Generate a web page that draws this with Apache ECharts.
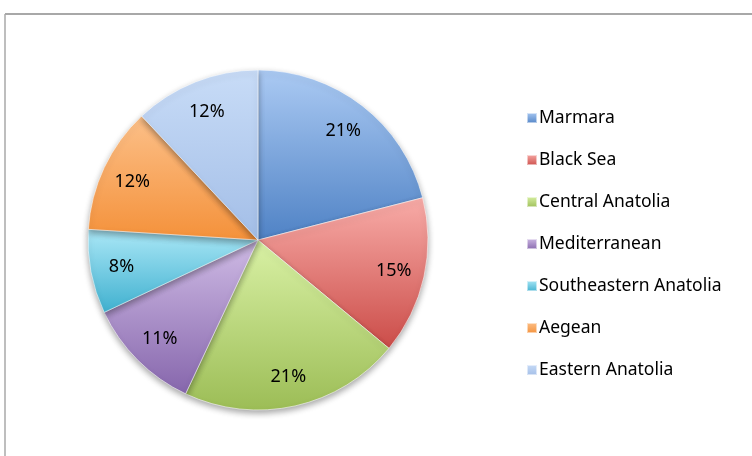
<!DOCTYPE html>
<html>
<head>
<meta charset="utf-8">
<script src="https://cdn.jsdelivr.net/npm/echarts@6/dist/echarts.min.js"></script>
<style>
  html, body { margin: 0; padding: 0; background: #fff; }
  #chart { width: 752px; height: 456px; }
</style>
</head>
<body>
<div id="chart"></div>
<script>
// regions and their share (%)
var regions = ['Marmara', 'Black Sea', 'Central Anatolia', 'Mediterranean', 'Southeastern Anatolia', 'Aegean', 'Eastern Anatolia'];
var shares = [21, 15, 21, 11, 8, 12, 12];
// gradient colours, light (top) -> dark (bottom)
var topColors = ['#abcaf3', '#f8aca8', '#d9f1a5', '#cfbbe5', '#ace8f7', '#fcc089', '#c8dcf7'];
var bottomColors = ['#4f82c5', '#cb4c48', '#9cbd56', '#8666ac', '#3fb0cf', '#f4913a', '#a3bee7'];

var chart = echarts.init(document.getElementById('chart'));

function grad(i) {
    return new echarts.graphic.LinearGradient(0, 0, 0, 1, [
        { offset: 0, color: topColors[i] },
        { offset: 1, color: bottomColors[i] }
    ]);
}

var pieData = regions.map(function (name, i) {
    return { name: name, value: shares[i], itemStyle: { color: grad(i) } };
});

var labelData = regions.map(function (name, i) {
    return { name: name, value: shares[i] };
});

var font = 'Noto Sans';

var option = {
    backgroundColor: '#fff',
    animation: false,
    graphic: [
        { type: 'line', shape: { x1: 5, y1: 14, x2: 752, y2: 14 }, style: { stroke: '#a8a8a8', lineWidth: 2 } },
        { type: 'line', shape: { x1: 5, y1: 14, x2: 5, y2: 456 }, style: { stroke: '#a8a8a8', lineWidth: 1.5 } }
    ],
    legend: {
        orient: 'vertical',
        left: 521,
        top: 103,
        itemWidth: 10,
        itemHeight: 10,
        itemGap: 22,
        icon: 'rect',
        data: regions,
        textStyle: { fontFamily: font, fontSize: 17.5, color: '#000', lineHeight: 20, padding: [0, 0, 0, -3] }
    },
    series: [
        {
            type: 'pie',
            center: [258, 240],
            radius: [0, 170],
            startAngle: 90,
            clockwise: true,
            silent: true,
            label: { show: false },
            labelLine: { show: false },
            itemStyle: {
                borderColor: 'rgba(255,255,255,0.55)',
                borderWidth: 1,
                shadowColor: 'rgba(0,0,0,0.35)',
                shadowBlur: 6,
                shadowOffsetY: 3
            },
            data: pieData
        },
        {
            // transparent ring used only to place the percent labels at ~0.8 r
            type: 'pie',
            center: [258, 241],
            radius: [102, 170],
            startAngle: 90,
            clockwise: true,
            silent: true,
            legendHoverLink: false,
            itemStyle: { color: 'rgba(0,0,0,0)' },
            label: {
                show: true,
                position: 'inside',
                formatter: '{c}%',
                fontFamily: font,
                fontSize: 18,
                color: '#000'
            },
            labelLine: { show: false },
            data: labelData
        }
    ]
};

chart.setOption(option);
</script>
</body>
</html>
